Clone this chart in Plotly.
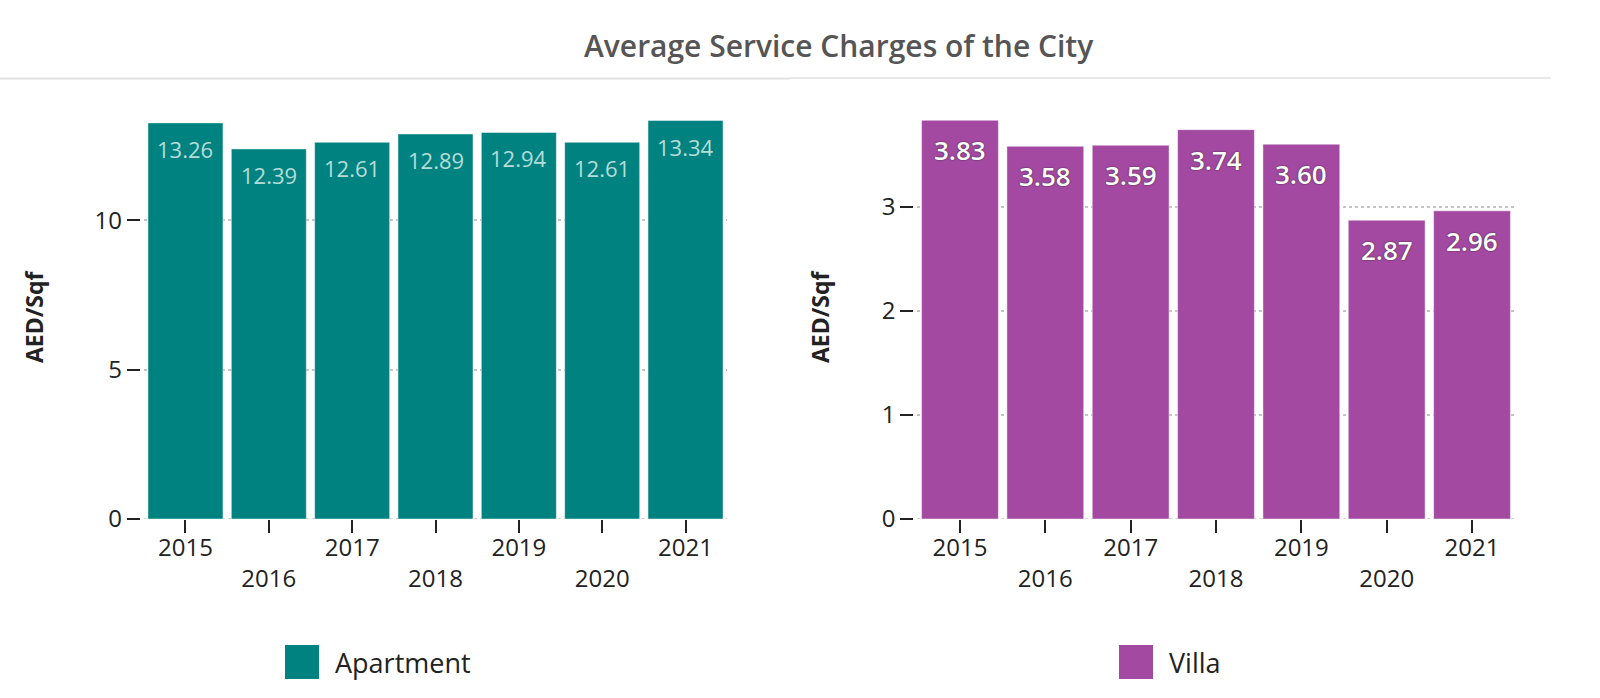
import plotly.graph_objects as go

# ---- data ----
years = ["2015", "2016", "2017", "2018", "2019", "2020", "2021"]
apartment = [13.26, 12.39, 12.61, 12.89, 12.94, 12.61, 13.34]
villa = [3.83, 3.58, 3.59, 3.74, 3.60, 2.87, 2.96]
title_text = "Average Service Charges of the City"
y_title = "AED/Sqf"
series_names = ["Apartment", "Villa"]
left_ticks = [0, 5, 10]
right_ticks = [0, 1, 2, 3]

# ---- layout constants (pixels) ----
W, H = 1600, 698
TEAL = "#008380"
PURPLE = "#a349a1"
FONT = "Open Sans"
GRID = "#c4c4c4"

def px_x(p):
    return p / W

def px_y(p):
    return 1 - p / H

zero_px = 519
top_px = 100
left_dom = (143.8, 727.2)
right_dom = (917.3, 1514.7)
left_scale = 29.87   # px per unit
right_scale = 104.1

tick_text = [y if i % 2 == 0 else "<br>" + y for i, y in enumerate(years)]

fig = go.Figure()
fig.add_trace(go.Bar(x=years, y=apartment, name=series_names[0], xaxis="x", yaxis="y",
                     marker=dict(color=TEAL, line=dict(color="rgba(255,255,255,0.45)", width=1)),
                     showlegend=False, hoverinfo="x+y"))
fig.add_trace(go.Bar(x=years, y=villa, name=series_names[1], xaxis="x2", yaxis="y2",
                     marker=dict(color=PURPLE, line=dict(color="rgba(255,255,255,0.45)", width=1)),
                     showlegend=False, hoverinfo="x+y"))

annotations = []
# value labels (category index on the category axis)
for i, v in enumerate(apartment):
    annotations.append(dict(x=i, y=v, xref="x", yref="y", text=f"{v:.2f}", showarrow=False,
                            yanchor="middle", yshift=-26,
                            font=dict(family=FONT, size=22, color="#b5dcd9", weight=500)))
for i, v in enumerate(villa):
    annotations.append(dict(x=i, y=v, xref="x2", yref="y2", text=f"{v:.2f}", showarrow=False,
                            yanchor="middle", yshift=-30,
                            font=dict(family=FONT, size=26, color="#ffffff", weight=600,
                                      shadow="0px 0px 1.5px rgba(20,20,20,0.95)")))

# title
annotations.append(dict(x=px_x(839), y=px_y(46), xref="paper", yref="paper", text=title_text,
                        showarrow=False, xanchor="center", yanchor="middle",
                        font=dict(family=FONT, size=30, color="#555555", weight=600)))
# y axis titles
for xp in (34, 820):
    annotations.append(dict(x=px_x(xp), y=px_y(317), xref="paper", yref="paper", text=y_title,
                            showarrow=False, textangle=-90, xanchor="center", yanchor="middle",
                            font=dict(family=FONT, size=23, color="#222222", weight=700)))

# title rule, dotted baselines and custom legends
shapes = [
    dict(type="line", xref="paper", yref="paper", x0=0, x1=px_x(790), y0=px_y(78.5), y1=px_y(78.5),
         line=dict(color="#e2e2e2", width=2)),
    dict(type="line", xref="paper", yref="paper", x0=px_x(790), x1=px_x(1551), y0=px_y(78), y1=px_y(78),
         line=dict(color="#e2e2e2", width=1.5)),
]
for xr, yr in (("x domain", "y"), ("x2 domain", "y2")):
    shapes.append(dict(type="line", xref=xr, yref=yr, x0=0, x1=1, y0=0, y1=0, layer="below",
                       line=dict(color=GRID, width=1.5, dash="dot")))
legend_items = [(series_names[0], TEAL, 285), (series_names[1], PURPLE, 1119)]
for name, col, lx in legend_items:
    shapes.append(dict(type="rect", xref="paper", yref="paper", x0=px_x(lx), x1=px_x(lx + 34),
                       y0=px_y(679), y1=px_y(645), fillcolor=col, line=dict(width=0)))
    annotations.append(dict(x=px_x(lx + 48), y=px_y(662), xref="paper", yref="paper", text=name,
                            showarrow=False, xanchor="left", yanchor="middle",
                            font=dict(family=FONT, size=27, color="#222222")))

ydom = [px_y(zero_px), px_y(top_px)]
axis_common = dict(showline=False, zeroline=False, showgrid=False, automargin=False,
                   ticks="outside", ticklen=13, tickwidth=2, tickcolor="#222222",
                   tickfont=dict(family=FONT, size=24, color="#222222"), tickangle=0,
                   type="category", tickmode="array", tickvals=years, ticktext=tick_text,
                   range=[-0.5, len(years) - 0.5], autorange=False, fixedrange=True,
                   ticklabelstandoff=-6)
yaxis_common = dict(showline=False, zeroline=False, showgrid=True, gridcolor=GRID,
                    griddash="dot", gridwidth=1.5, automargin=False,
                    ticks="outside", ticklen=13, tickwidth=2, tickcolor="#222222",
                    tickfont=dict(family=FONT, size=24, color="#222222"), fixedrange=True,
                    domain=ydom, tickmode="array", autorange=False, anchor="free")

fig.update_layout(
    template="none",
    width=W, height=H,
    margin=dict(l=0, r=0, t=0, b=0, pad=0),
    paper_bgcolor="white", plot_bgcolor="rgba(0,0,0,0)",
    font=dict(family=FONT, color="#222222"),
    bargap=0.1,
    showlegend=False,
    xaxis=dict(domain=[px_x(left_dom[0]), px_x(left_dom[1])], anchor="y", **axis_common),
    xaxis2=dict(domain=[px_x(right_dom[0]), px_x(right_dom[1])], anchor="y2", **axis_common),
    yaxis=dict(position=px_x(left_dom[0] - 4), range=[0, (zero_px - top_px) / left_scale],
               tickvals=left_ticks, **yaxis_common),
    yaxis2=dict(position=px_x(right_dom[0] - 4), range=[0, (zero_px - top_px) / right_scale],
                tickvals=right_ticks, **yaxis_common),
    annotations=annotations,
    shapes=shapes,
)

fig.write_html("out.html", config=dict(displayModeBar=False),
               post_script="document.body.style.margin='0';document.body.style.overflow='hidden';")
